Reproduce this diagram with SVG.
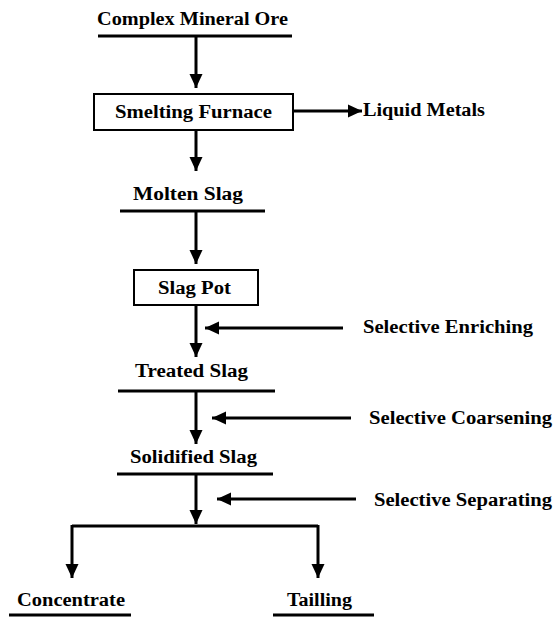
<svg xmlns="http://www.w3.org/2000/svg" width="553" height="617" viewBox="0 0 553 617">
<defs>
<marker id="ah" markerUnits="userSpaceOnUse" markerWidth="14" markerHeight="14" viewBox="0 0 14 14" refX="14" refY="7" orient="auto">
<polygon points="0,0.5 14,7 0,13.5" fill="#000"/>
</marker>
<style>
text{font-family:'Liberation Serif','Times New Roman',Times,serif;font-weight:700;font-size:18px;fill:#000}
.ln{stroke:#000;stroke-width:3;fill:none}
.box{stroke:#000;stroke-width:2;fill:#fff}
.ar{stroke:#000;stroke-width:3;fill:none;marker-end:url(#ah)}
</style>
</defs>
<rect width="553" height="617" fill="#fff"/>
<g id="ore"><text x="97" y="25" textLength="191" lengthAdjust="spacingAndGlyphs">Complex Mineral Ore</text><line class="ln" x1="98" y1="36" x2="292" y2="36"/></g>
<g id="furnace"><rect class="box" x="94" y="94" width="199" height="36"/><text x="115" y="118" textLength="157" lengthAdjust="spacingAndGlyphs">Smelting Furnace</text></g>
<g id="metals"><text x="363" y="116" textLength="122" lengthAdjust="spacingAndGlyphs">Liquid Metals</text></g>
<g id="molten"><text x="133" y="200" textLength="110" lengthAdjust="spacingAndGlyphs">Molten Slag</text><line class="ln" x1="120" y1="211" x2="265" y2="211"/></g>
<g id="slagpot"><rect class="box" x="134" y="270" width="124" height="35"/><text x="158" y="294" textLength="73" lengthAdjust="spacingAndGlyphs">Slag Pot</text></g>
<g id="enriching"><text x="363" y="333" textLength="170" lengthAdjust="spacingAndGlyphs">Selective Enriching</text></g>
<g id="treated"><text x="135" y="377" textLength="113" lengthAdjust="spacingAndGlyphs">Treated Slag</text><line class="ln" x1="118" y1="391" x2="275" y2="391"/></g>
<g id="coarsening"><text x="369" y="424" textLength="183" lengthAdjust="spacingAndGlyphs">Selective Coarsening</text></g>
<g id="solidified"><text x="130" y="463" textLength="127" lengthAdjust="spacingAndGlyphs">Solidified Slag</text><line class="ln" x1="117" y1="474" x2="273" y2="474"/></g>
<g id="separating"><text x="374" y="506" textLength="178" lengthAdjust="spacingAndGlyphs">Selective Separating</text></g>
<g id="concentrate"><text x="17" y="606" textLength="108" lengthAdjust="spacingAndGlyphs">Concentrate</text><line class="ln" x1="9" y1="615" x2="131" y2="615"/></g>
<g id="tailling"><text x="287" y="606" textLength="65" lengthAdjust="spacingAndGlyphs">Tailling</text><line class="ln" x1="273" y1="615" x2="374" y2="615"/></g>
<g id="connectors">
<line class="ar" x1="196" y1="36" x2="196" y2="88"/>
<line class="ar" x1="293" y1="111" x2="362" y2="111"/>
<line class="ar" x1="196" y1="130" x2="196" y2="171"/>
<line class="ar" x1="196" y1="211" x2="196" y2="264"/>
<line class="ar" x1="196" y1="305" x2="196" y2="357"/>
<line class="ar" x1="343" y1="328" x2="205" y2="328"/>
<line class="ar" x1="196" y1="391" x2="196" y2="444"/>
<line class="ar" x1="351" y1="418" x2="212" y2="418"/>
<line class="ar" x1="196" y1="474" x2="196" y2="524"/>
<line class="ar" x1="356" y1="499" x2="217" y2="499"/>
<line class="ln" x1="72" y1="526" x2="318" y2="526"/>
<line class="ar" x1="72" y1="525" x2="72" y2="578"/>
<line class="ar" x1="318" y1="525" x2="318" y2="578"/>
</g>
</svg>
